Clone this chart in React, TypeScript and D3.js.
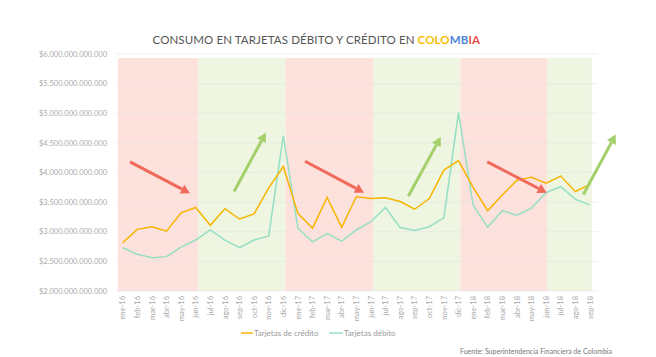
import React from "react";
import * as d3 from "d3";

const months = ["ene-16","feb-16","mar-16","abr-16","may-16","jun-16","jul-16","ago-16","sep-16","oct-16","nov-16","dic-16",
"ene-17","feb-17","mar-17","abr-17","may-17","jun-17","jul-17","ago-17","sep-17","oct-17","nov-17","dic-17",
"ene-18","feb-18","mar-18","abr-18","may-18","jun-18","jul-18","ago-18","sep-18"];

// values in trillions of pesos
const credito = [2.815,3.04,3.085,3.01,3.32,3.41,3.11,3.39,3.215,3.30,3.74,4.10,
3.31,3.06,3.58,3.075,3.59,3.56,3.575,3.51,3.38,3.56,4.04,4.20,
3.75,3.355,3.62,3.87,3.92,3.82,3.94,3.68,3.80];
const debito = [2.73,2.62,2.56,2.58,2.74,2.86,3.03,2.86,2.73,2.86,2.93,4.62,
3.06,2.83,2.97,2.84,3.03,3.17,3.41,3.07,3.02,3.085,3.24,5.01,
3.45,3.075,3.355,3.28,3.40,3.66,3.76,3.55,3.45];

const yTicks = [2,2.5,3,3.5,4,4.5,5,5.5,6];
const yTickLabels = ["$2.000.000.000.000","$2.500.000.000.000","$3.000.000.000.000","$3.500.000.000.000","$4.000.000.000.000","$4.500.000.000.000","$5.000.000.000.000","$5.500.000.000.000","$6.000.000.000.000"];

// shaded periods (month index range): down = pink, up = green
const bandStarts = [-0.32, 5.16, 11.15, 17.14, 23.14, 29.1];
const bandEnds = [5.16, 11.15, 17.14, 23.14, 29.1, 32.14];
const bandKinds = ["down","up","down","up","down","up"];

// trend arrows [x0 idx, v0, x1 idx, v1]
const arrowFrom = [[0.5,4.18],[7.63,3.68],[12.49,4.19],[19.56,3.60],[24.97,4.18],[31.55,3.63]];
const arrowTo = [[4.61,3.65],[9.8,4.67],[16.53,3.66],[21.78,4.60],[29.04,3.66],[33.77,4.64]];
const arrowKinds = ["down","up","down","up","down","up"];

const W = 656, H = 357;
const FONT = "Lato, 'Open Sans', sans-serif";

export default function App() {
  const x = d3.scaleLinear().domain([0, 32]).range([122.7, 589.9]);
  const y = d3.scaleLinear().domain([2, 6]).range([291, 54]);
  const line = d3.line<number>().x((_, i) => x(i)).y(d => y(d));

  const bandColor: Record<string, string> = { down: "#fde1dc", up: "#eef5e1" };
  const arrowColor: Record<string, string> = { down: "#f06a5a", up: "#a3d06a" };

  const arrows = arrowFrom.map((f, i) => {
    const t = arrowTo[i];
    const x0 = x(f[0]), y0 = y(f[1]), x1 = x(t[0]), y1 = y(t[1]);
    const dx = x1 - x0, dy = y1 - y0;
    const len = Math.hypot(dx, dy);
    const ux = dx / len, uy = dy / len;
    const hl = 9, hw = 5;
    const bx = x1 - ux * hl, by = y1 - uy * hl;
    const px = -uy, py = ux;
    const head = `${x1},${y1} ${bx + px * hw},${by + py * hw} ${bx - px * hw},${by - py * hw}`;
    return { x0, y0, bx, by, head, color: arrowColor[arrowKinds[i]] };
  });

  return (
    <svg width={W} height={H} style={{ position: "absolute", left: 0, top: 0, background: "#fff" }} fontFamily={FONT}>
      <text x={317} y={44} textAnchor="middle" fontSize={11.5} fill="#555" letterSpacing={1.6} textLength={329} lengthAdjust="spacing">
        CONSUMO EN TARJETAS DÉBITO Y CRÉDITO EN <tspan fill="#f5c000" fontWeight="bold">COLO</tspan><tspan fill="#4a86d8" fontWeight="bold">MB</tspan><tspan fill="#e8524a" fontWeight="bold">IA</tspan>
      </text>

      {bandStarts.map((s, i) => (
        <rect key={"b" + i} x={x(s)} y={58} width={x(bandEnds[i]) - x(s)} height={y(2) - 58} fill={bandColor[bandKinds[i]]} />
      ))}

      {yTicks.map((t, i) => (
        <g key={"y" + i}>
          <line x1={116} x2={598} y1={y(t)} y2={y(t)} stroke="#e4e4e4" strokeOpacity={0.6} strokeWidth={1} />
          <text x={107} y={y(t)} dy="0.35em" textAnchor="end" fontSize={7.5} fill="#aaa">{yTickLabels[i]}</text>
        </g>
      ))}

      {months.map((m, i) => (
        <text key={"x" + i} transform={`translate(${x(i)},296) rotate(-90)`} dy="0.35em" textAnchor="end" fontSize={7.5} fill="#aaa">{m}</text>
      ))}

      <path d={line(debito) || ""} fill="none" stroke="#95dfc5" strokeWidth={1.5} />
      <path d={line(credito) || ""} fill="none" stroke="#f7b500" strokeWidth={1.5} />

      {arrows.map((a, i) => (
        <g key={"a" + i}>
          <line x1={a.x0} y1={a.y0} x2={a.bx} y2={a.by} stroke={a.color} strokeWidth={3} />
          <polygon points={a.head} fill={a.color} />
        </g>
      ))}

      <line x1={241} x2={253} y1={333} y2={333} stroke="#f7b500" strokeWidth={1.5} />
      <text x={254} y={333} dy="0.35em" fontSize={8} fill="#999">Tarjetas de crédito</text>
      <line x1={329} x2={343} y1={333} y2={333} stroke="#95dfc5" strokeWidth={1.5} />
      <text x={344} y={333} dy="0.35em" fontSize={8} fill="#999">Tarjetas débito</text>

      <text x={460} y={352} dy="0.35em" fontSize={7} fill="#777">Fuente: Superintendencia Financiera de Colombia</text>
    </svg>
  );
}
